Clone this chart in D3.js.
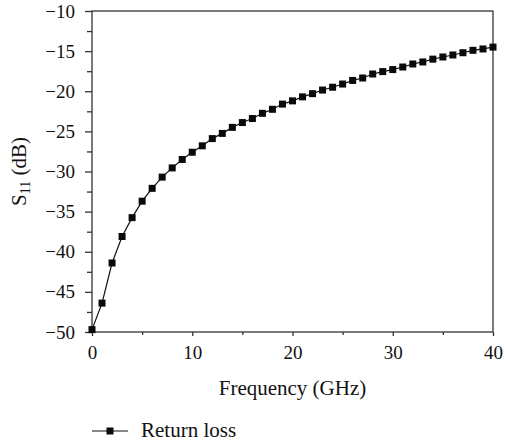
<!DOCTYPE html>
<html>
<head>
<meta charset="utf-8">
<script src="https://cdn.jsdelivr.net/npm/d3@7"></script>
<style>
  html, body { margin: 0; padding: 0; background: #fff; }
  #chart text { font-family: "Liberation Serif", "Times New Roman", serif; }
</style>
</head>
<body>
<svg id="chart" width="505" height="446"></svg>
<script>
// Frequency sweep (GHz) and measured return loss S11 (dB)
const frequency = [0,1,2,3,4,5,6,7,8,9,10,11,12,13,14,15,16,17,18,19,20,
                   21,22,23,24,25,26,27,28,29,30,31,32,33,34,35,36,37,38,39,40];
const returnLoss = [-49.7,-46.4,-41.4,-38.1,-35.75,-33.7,-32.1,-30.7,-29.55,-28.5,-27.6,
                    -26.8,-25.9,-25.25,-24.5,-23.9,-23.4,-22.75,-22.25,-21.6,-21.2,
                    -20.7,-20.3,-19.85,-19.5,-19.1,-18.65,-18.35,-17.85,-17.55,-17.3,
                    -16.98,-16.6,-16.35,-16.0,-15.73,-15.48,-15.2,-14.9,-14.73,-14.5];
const xTicks = [0,10,20,30,40];
const yTicks = [-50,-45,-40,-35,-30,-25,-20,-15,-10];
const seriesName = "Return loss";

const svg = d3.select("#chart");
const margin = {left: 92, right: 12, top: 11, bottom: 114};
const W = 505, H = 446;
const x = d3.scaleLinear().domain([0, 40]).range([margin.left, W - margin.right]);
const y = d3.scaleLinear().domain([-50, -10]).range([H - margin.bottom, margin.top]);

const axisColor = "#333";
const textColor = "#111";
const serifFamily = "Liberation Serif";
const tickFs = 19;
const titleFs = 21;

// Frame
svg.append("rect")
  .attr("x", x(0)).attr("y", y(-10))
  .attr("width", x(40) - x(0)).attr("height", y(-50) - y(-10))
  .attr("fill", "none").attr("stroke", axisColor).attr("stroke-width", 1.3);

// Bottom axis with minor ticks
svg.append("g")
  .attr("transform", `translate(0,${y(-50)})`)
  .call(d3.axisBottom(x).tickValues(xTicks).tickSize(4).tickPadding(10).tickFormat(d3.format("d")));
svg.append("g").attr("transform", `translate(0,${y(-50)})`)
  .call(d3.axisBottom(x).tickValues(d3.range(5, 40, 10)).tickSize(3).tickFormat(""));

// Left axis with minor ticks
svg.append("g")
  .attr("transform", `translate(${x(0)},0)`)
  .call(d3.axisLeft(y).tickValues(yTicks).tickSize(7).tickPadding(10)
    .tickFormat(d => d3.format("d")(d).replace("-", "\u2212")));
svg.append("g").attr("transform", `translate(${x(0)},0)`)
  .call(d3.axisLeft(y).tickValues(d3.range(-47.5, -10, 5)).tickSize(5).tickFormat(""));

svg.selectAll(".domain").remove();
svg.selectAll("g").attr("font-family", null).attr("font-size", null);
svg.selectAll(".tick line").attr("stroke", axisColor).attr("stroke-width", 1.3);
svg.selectAll(".tick text").attr("font-size", tickFs).attr("fill", textColor)
  .style("font-family", serifFamily);

// Axis titles
svg.append("text")
  .attr("x", (x(0) + x(40)) / 2).attr("y", 395)
  .attr("text-anchor", "middle").attr("font-size", titleFs)
  .style("font-family", serifFamily).attr("fill", textColor)
  .text("Frequency (GHz)");

const yTitle = svg.append("text")
  .attr("transform", `translate(26,${(y(-10) + y(-50)) / 2}) rotate(-90)`)
  .attr("text-anchor", "middle").attr("font-size", titleFs)
  .style("font-family", serifFamily).attr("fill", textColor);
yTitle.append("tspan").text("S");
yTitle.append("tspan").attr("font-size", titleFs * 0.66).attr("dy", 4).text("11");
yTitle.append("tspan").attr("dy", -4).text(" (dB)");

// Series: line with square markers
const pts = frequency.map((f, i) => [f, returnLoss[i]]);
svg.append("path")
  .datum(pts)
  .attr("fill", "none").attr("stroke", textColor).attr("stroke-width", 1.2)
  .attr("d", d3.line().x(d => x(d[0])).y(d => y(d[1])));

const ms = 7;
svg.selectAll("rect.pt").data(pts).enter().append("rect")
  .attr("class", "pt")
  .attr("x", d => x(d[0]) - ms / 2).attr("y", d => y(d[1]) - ms / 2)
  .attr("width", ms).attr("height", ms).attr("fill", "#0a0a0a");

// Legend
const ly = 431;
svg.append("line").attr("x1", 92).attr("x2", 128).attr("y1", ly).attr("y2", ly)
  .attr("stroke", textColor).attr("stroke-width", 1.2);
svg.append("rect").attr("x", 110 - ms / 2).attr("y", ly - ms / 2)
  .attr("width", ms).attr("height", ms).attr("fill", "#0a0a0a");
svg.append("text").attr("x", 141).attr("y", ly + 6).attr("font-size", titleFs)
  .style("font-family", serifFamily).attr("fill", textColor).text(seriesName);
</script>
</body>
</html>
